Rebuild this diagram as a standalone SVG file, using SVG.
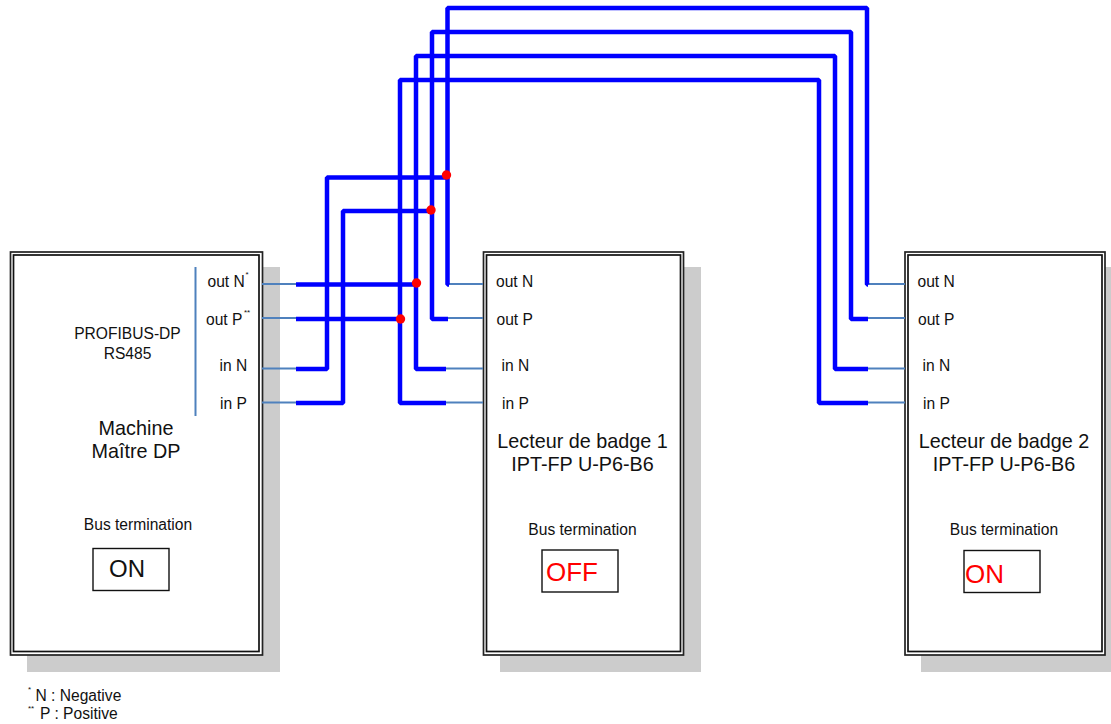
<svg xmlns="http://www.w3.org/2000/svg" width="1111" height="724" viewBox="0 0 1111 724">
<style>
text{font-family:"Liberation Sans",Arial,sans-serif;font-size:15.6px;fill:#111}
.sh{fill:#ccc}
.o{fill:#fff;stroke:#222;stroke-width:1.7}
.i{fill:#fff;stroke:#111;stroke-width:1.7}
.t{fill:none;stroke:#0000ff;stroke-width:4.500;stroke-linejoin:bevel}
.n{fill:none;stroke:#4f81bd;stroke-width:2}
.d{fill:#ff0000}
.b{font-size:19.8px}
.m{text-anchor:middle}
.s{font-size:8px}
.sw{fill:#fff;stroke:#111;stroke-width:1.4}
.big{font-size:24px}
.r{font-size:26px;fill:#ff0000}
</style>
<rect class="sh" x="27" y="267" width="253" height="405"/>
<rect class="sh" x="500" y="267" width="201" height="405"/>
<rect class="sh" x="921" y="267" width="190" height="405"/>
<g id="machine">
<rect class="o" x="10.500" y="252" width="252" height="403"/>
<rect class="i" x="13.500" y="255" width="245.500" height="396.500"/>
<text x="207.500" y="287">out N</text><text class="s" x="245.500" y="277">*</text>
<text x="206" y="325">out P</text><text class="s" x="244" y="315">**</text>
<text x="219.500" y="371">in N</text>
<text x="220" y="409">in P</text>
<text class="m" x="127.500" y="339">PROFIBUS-DP</text>
<text class="m" x="127.500" y="359">RS485</text>
<text class="b m" x="136" y="435">Machine</text>
<text class="b m" x="136" y="458">Maître DP</text>
<text class="m" x="138" y="530">Bus termination</text>
<rect class="sw" x="93" y="548.500" width="76" height="42"/>
<text class="big" x="109" y="577">ON</text>
</g>
<g id="lecteur1">
<rect class="o" x="483.500" y="252" width="200" height="403"/>
<rect class="i" x="486.500" y="255" width="194" height="396.500"/>
<text x="496" y="287">out N</text>
<text x="496.500" y="325">out P</text>
<text x="501.500" y="371">in N</text>
<text x="502" y="409">in P</text>
<text class="b m" x="582.500" y="448">Lecteur de badge 1</text>
<text class="b m" x="582.500" y="471">IPT-FP U-P6-B6</text>
<text class="m" x="582.500" y="535">Bus termination</text>
<rect class="sw" x="542" y="550" width="76" height="42"/>
<text class="r" x="546" y="581">OFF</text>
</g>
<g id="lecteur2">
<rect class="o" x="905" y="252" width="200" height="403"/>
<rect class="i" x="908" y="255" width="194" height="396.500"/>
<text x="917.500" y="287">out N</text>
<text x="918" y="325">out P</text>
<text x="922.500" y="371">in N</text>
<text x="923" y="409">in P</text>
<text class="b m" x="1004" y="448">Lecteur de badge 2</text>
<text class="b m" x="1004" y="471">IPT-FP U-P6-B6</text>
<text class="m" x="1004" y="535">Bus termination</text>
<rect class="sw" x="964" y="550.500" width="76" height="42"/>
<text class="r" x="965" y="583">ON</text>
</g>
<g id="connectors">
<path class="n" d="M195.500 267V416M262 284H296M262 318H296M262 368.500H296M262 402.500H296M447 284H483M447 318H483M446 368.500H483M446 402.500H483M868 284H905M868 318H905M868 368.500H905M868 402.500H905"/>
<path class="t" d="M296 284.500H416M296 319H400"/>
<path class="t" d="M296 369H327V177.500H447"/>
<path class="t" d="M296 403H343V211H431"/>
<path class="t" d="M449 284.500H447.500V8H867V284.500H868"/>
<path class="t" d="M448 319H432V32H851V319H868"/>
<path class="t" d="M446 369H416V56H835V369H868"/>
<path class="t" d="M446 403H400V80H819V403H868"/>
<circle class="d" cx="446.500" cy="175" r="4.700"/>
<circle class="d" cx="431" cy="210" r="4.700"/>
<circle class="d" cx="416.500" cy="283" r="4.700"/>
<circle class="d" cx="400.500" cy="319" r="4.700"/>
</g>
<g id="legend">
<text class="s" x="28" y="692">*</text>
<text x="35.500" y="701">N : Negative</text>
<text class="s" x="28" y="711">**</text>
<text x="40" y="719">P : Positive</text>
</g>
</svg>
